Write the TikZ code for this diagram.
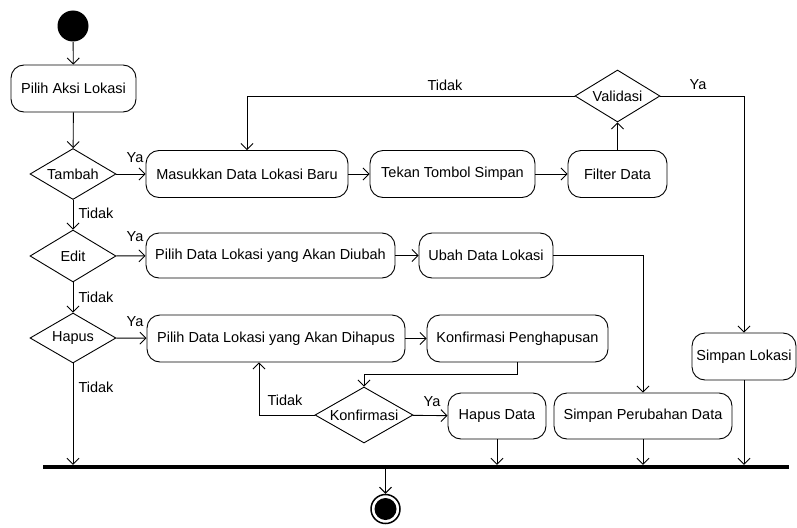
\documentclass[tikz,border=0pt]{standalone}
\usepackage{fontspec}
\setmainfont{Liberation Sans}
\usepackage{tikz}
\usetikzlibrary{shapes.geometric,arrows.meta,calc}

\begin{document}
\begin{tikzpicture}[x=1pt, y=-1pt, line width=0.9pt, >={Straight Barb[length=6pt,width=12pt]},
    aksi/.style={draw, rectangle, rounded corners=13pt, minimum height=47pt, inner sep=2pt, font=\fontsize{14.5}{17}\selectfont},
    pilihan/.style={draw, diamond, aspect=1.7, inner sep=0pt, minimum width=86pt, minimum height=51pt, font=\fontsize{14.5}{17}\selectfont},
    ket/.style={inner sep=0pt, font=\fontsize{14.5}{17}\selectfont}]
    \useasboundingbox (0,0) rectangle (797,527);
    \node[circle, fill, minimum size=31pt, inner sep=0pt] (mulai) at (73,26) {};
    \node[aksi, minimum width=125pt] (aksi) at (73.5,88.5) {Pilih Aksi Lokasi};
    \node[pilihan] (tambah) at (73,174) {Tambah};
    \node[aksi, minimum width=202pt] (masukkan) at (247,174) {Masukkan Data Lokasi Baru};
    \node[aksi, minimum width=165pt] (tekan) at (452.5,174) {Tekan Tombol Simpan};
    \node[aksi, minimum width=99pt] (filter) at (617.5,174) {Filter Data};
    \node[pilihan, minimum width=85pt, minimum height=52pt] (validasi) at (617.5,96) {Validasi};
    \node[pilihan, minimum height=52pt] (edit) at (73,256) {Edit};
    \node[aksi, minimum width=249pt, minimum height=45pt] (diubah) at (270.5,255.5) {Pilih Data Lokasi yang Akan Diubah};
    \node[aksi, minimum width=134pt, minimum height=45pt] (ubah) at (486,255.5) {Ubah Data Lokasi};
    \node[pilihan, minimum height=50pt] (hapus) at (73,338) {Hapus};
    \node[aksi, minimum width=258pt] (dihapus) at (276,338.5) {Pilih Data Lokasi yang Akan Dihapus};
    \node[aksi, minimum width=181pt] (konfpeng) at (517.5,338.5) {Konfirmasi Penghapusan};
    \node[pilihan, minimum width=98pt, minimum height=56pt] (konf) at (364,415) {Konfirmasi};
    \node[aksi, minimum width=98pt, minimum height=46pt] (hapusdata) at (497,416) {Hapus Data};
    \node[aksi, minimum width=178pt, minimum height=46pt] (perubahan) at (643,416) {Simpan Perubahan Data};
    \node[aksi, minimum width=104pt] (simpan) at (744,356.5) {Simpan Lokasi};
    \node[fill, rectangle, minimum width=746pt, minimum height=3.5pt, inner sep=0pt] (bar) at (416,467) {};
    \node[circle, draw, line width=1.5pt, minimum size=29pt, inner sep=0pt] (selesai) at (385.5,509) {};
    \fill (selesai) circle (11pt);
    \node[ket] (ya1) at (135,158) {Ya};
    \node[ket] (tidak1) at (96,213) {Tidak};
    \node[ket] (ya2) at (135,237) {Ya};
    \node[ket] (tidak2) at (96,297) {Tidak};
    \node[ket] (ya3) at (135,322) {Ya};
    \node[ket] (tidak3) at (96,387) {Tidak};
    \node[ket] (tidakv) at (445,85) {Tidak};
    \node[ket] (yav) at (698,85) {Ya};
    \node[ket] (tidakk) at (285,400) {Tidak};
    \node[ket] (yak) at (432,402) {Ya};
    \draw[->] (mulai) -- (aksi);
    \draw[->] (aksi) -- (tambah);
    \draw[->] (tambah) -- (masukkan);
    \draw[->] (masukkan) -- (tekan);
    \draw[->] (tekan) -- (filter);
    \draw[->] (filter) -- (validasi);
    \draw[->] (validasi.west) -| (masukkan.north);
    \draw[->] (validasi.east) -| (simpan.north);
    \draw[->] (tambah) -- (edit);
    \draw[->] (edit) -- (diubah);
    \draw[->] (diubah) -- (ubah);
    \draw[->] (ubah.east) -| (perubahan.north);
    \draw[->] (edit) -- (hapus);
    \draw[->] (hapus) -- (dihapus);
    \draw[->] (dihapus) -- (konfpeng);
    \draw[->] (konfpeng.south) -- ++(0,12) -| (konf.north);
    \draw[->] (konf.west) -| ([xshift=-17pt]dihapus.south);
    \draw[->] (konf) -- (hapusdata);
    \draw[->] (hapus.south) -- (hapus.south |- bar.north);
    \draw[->] (hapusdata.south) -- (hapusdata.south |- bar.north);
    \draw[->] (perubahan.south) -- (perubahan.south |- bar.north);
    \draw[->] (simpan.south) -- (simpan.south |- bar.north);
    \draw[->] (bar.south -| selesai) -- (selesai.north);
\end{tikzpicture}
\end{document}
